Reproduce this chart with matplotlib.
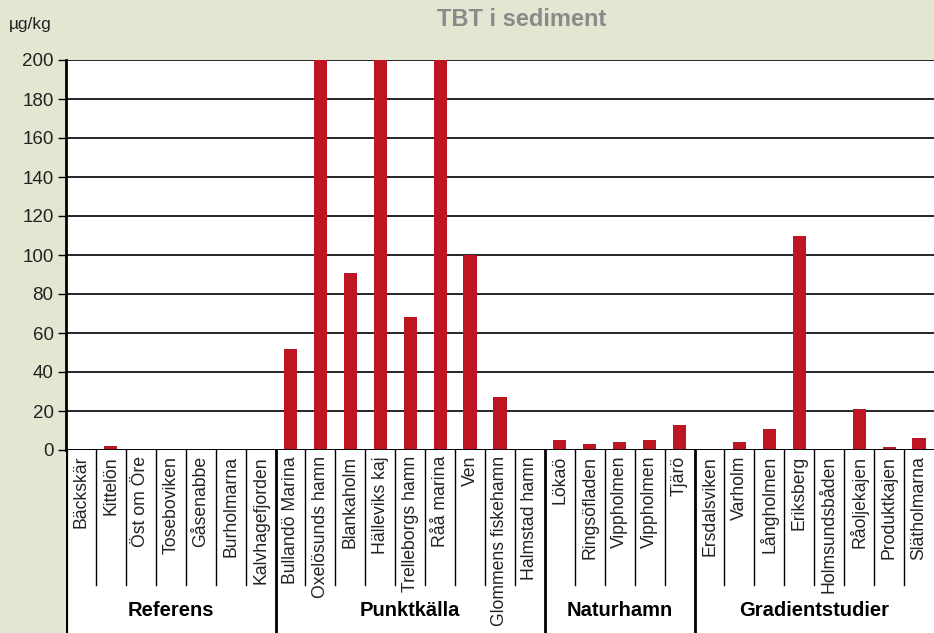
import numpy as np
import matplotlib
matplotlib.use("Agg")
import matplotlib.pyplot as plt

plt.rcParams['font.family'] = ['Liberation Sans', 'DejaVu Sans']

# data (values above 200 are clipped at the top)
sites = ["Bäckskär", "Kittelön", "Öst om Öre", "Toseboviken", "Gåsenabbe",
         "Burholmarna", "Kalvhagefjorden",
         "Bullandö Marina", "Oxelösunds hamn", "Blankaholm", "Hälleviks kaj",
         "Trelleborgs hamn", "Råå marina", "Ven", "Glommens fiskehamn",
         "Halmstad hamn",
         "Lökaö", "Ringsöfladen", "Vippholmen", "Vippholmen", "Tjärö",
         "Ersdalsviken", "Varholm", "Långholmen", "Eriksberg", "Holmsundsbåden",
         "Råoljekajen", "Produktkajen", "Slätholmarna"]
tbt = [0, 2, 0, 0, 0, 0, 0,
       52, 200, 91, 200, 68, 200, 100, 27, 0,
       5, 3, 4, 5, 13,
       0, 4, 11, 110, 0, 21, 1.5, 6]
groups = ["Referens", "Punktkälla", "Naturhamn", "Gradientstudier"]
group_sizes = [7, 9, 5, 8]
yticks = [0, 20, 40, 60, 80, 100, 120, 140, 160, 180, 200]

bg = '#e3e7d1'
red = '#be1522'

W, H = 934, 633
fig = plt.figure(figsize=(W / 100, H / 100), dpi=100, facecolor=bg)

left, right, top, bottom = 66, 934, 60, 450
ax = fig.add_axes([left / W, 1 - bottom / H, (right - left) / W, (bottom - top) / H])
x = np.arange(len(sites))
ax.bar(x, tbt, width=0.44, color=red, zorder=3)
ax.set_xlim(-0.5, len(sites) - 0.5)
ax.set_ylim(0, 200)
ax.set_yticks(yticks)
ax.set_xticks([])
ax.yaxis.grid(True, color='black', linewidth=1.2, zorder=1)
ax.set_axisbelow(True)
for s in ['top', 'right']:
    ax.spines[s].set_visible(False)
ax.spines['left'].set_linewidth(2)
ax.spines['bottom'].set_linewidth(2)
ax.spines['bottom'].set_zorder(4)
ax.tick_params(axis='y', length=6, width=1, direction='out', labelsize=13.5,
               labelcolor='#222222', pad=3)

# label area below the bars
lab_h = H - bottom
ax2 = fig.add_axes([left / W, 0, (right - left) / W, lab_h / H])
ax2.set_xlim(-0.5, len(sites) - 0.5)
ax2.set_ylim(lab_h, 0)
ax2.axis('off')
ax2.add_patch(plt.Rectangle((-0.5, 0), len(sites), lab_h, color='white', zorder=0))

bounds = np.cumsum(group_sizes)[:-1] - 0.5
for i in range(len(sites) - 1):
    b = i + 0.5
    if b in bounds:
        ax2.plot([b, b], [0, lab_h], color='black', lw=2)
    else:
        ax2.plot([b, b], [0, 135], color='black', lw=1)
ax2.plot([-0.5, -0.5], [0, lab_h], color='black', lw=3)

for i, name in enumerate(sites):
    ax2.text(i, 6, name, rotation=90, ha='center', va='top', fontsize=12.7,
             color='#222222')

start = 0
for g, n in zip(groups, group_sizes):
    ax2.text(start + (n - 1) / 2, 160, g, ha='center', va='center',
             fontsize=14.5, fontweight='bold', color='black')
    start += n

fig.text(522 / W, 1 - 20 / H, "TBT i sediment", ha='center', va='center',
         fontsize=17, fontweight='bold', color='#8a8a8a')
fig.text(9 / W, 1 - 24 / H, "µg/kg", ha='left', va='center', fontsize=12.5,
         color='#222222')

fig.savefig("out.png", dpi=100, facecolor=bg)
